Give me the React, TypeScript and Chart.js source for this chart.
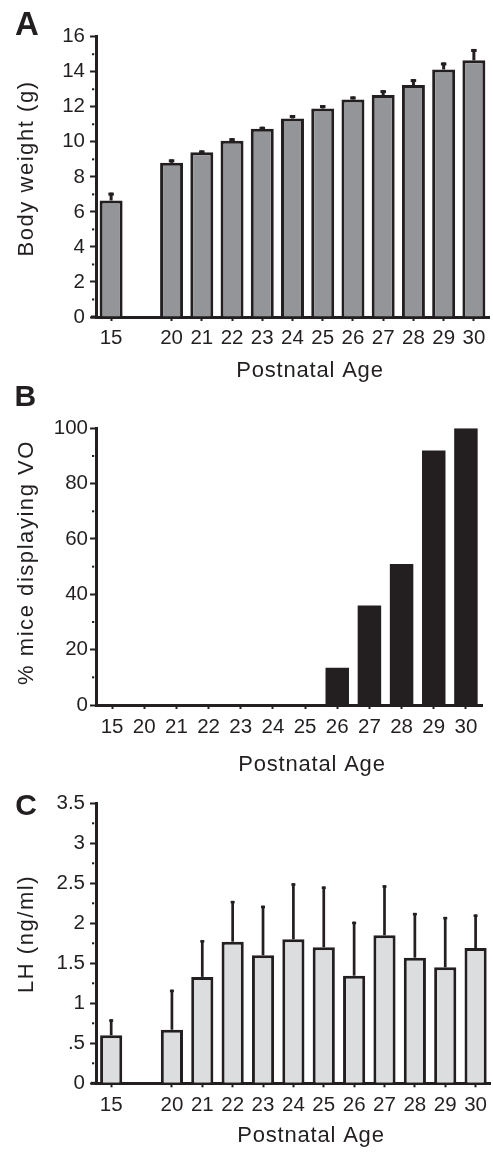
import React, { useEffect, useRef } from 'react';
import { Chart, registerables } from 'chart.js';

Chart.register(...registerables);

// ---------- data ----------
const AGES = ['15', '20', '21', '22', '23', '24', '25', '26', '27', '28', '29', '30'];
const BODY_WEIGHT = [6.65, 8.8, 9.41, 10.06, 10.74, 11.33, 11.9, 12.42, 12.67, 13.24, 14.13, 14.65];
const BODY_WEIGHT_SEM = [0.45, 0.2, 0.1, 0.15, 0.12, 0.2, 0.2, 0.17, 0.28, 0.34, 0.4, 0.65];
const VO_PERCENT = [0, 0, 0, 0, 0, 0, 0, 13.5, 36, 51, 92, 100];
const LH = [0.6, 0.67, 1.33, 1.77, 1.6, 1.8, 1.7, 1.345, 1.85, 1.57, 1.45, 1.69];
const LH_SEM = [0.2, 0.5, 0.46, 0.51, 0.62, 0.7, 0.76, 0.675, 0.625, 0.56, 0.63, 0.42];

const BW_Y_TICKS = [0, 2, 4, 6, 8, 10, 12, 14, 16];
const VO_Y_TICKS = [0, 20, 40, 60, 80, 100];
const LH_Y_TICKS = [0, 0.5, 1, 1.5, 2, 2.5, 3, 3.5];
const LH_Y_LABELS = ['0', '.5', '1', '1.5', '2', '2.5', '3', '3.5'];

const X_TITLE = 'Postnatal Age';
const BW_Y_TITLE = 'Body weight (g)';
const VO_Y_TITLE = '% mice displaying VO';
const LH_Y_TITLE = 'LH (ng/ml)';

// ---------- styling ----------
const INK = '#231f20';
const FONT = '"Liberation Sans", Arial, Helvetica, sans-serif';

// insert an empty slot between the first age and the rest
const withGap = <T,>(arr: T[], filler: T): T[] => [arr[0], filler, ...arr.slice(1)];

const errorBarPlugin = {
  id: 'errorBars',
  afterDatasetsDraw(chart: any, _args: any, opts: any) {
    const errs: (number | null)[] | undefined = opts && opts.errors;
    if (!errs) return;
    const meta = chart.getDatasetMeta(0);
    const yScale = chart.scales.y;
    const vals = chart.data.datasets[0].data;
    const ctx = chart.ctx;
    ctx.save();
    ctx.fillStyle = opts.color;
    meta.data.forEach((el: any, i: number) => {
      const v = vals[i];
      const e = errs[i];
      if (v == null || e == null) return;
      const top = yScale.getPixelForValue(v + e);
      const base = el.y;
      ctx.fillRect(el.x - opts.stemWidth / 2, top, opts.stemWidth, base - top);
      ctx.fillRect(el.x - opts.capWidth / 2, top, opts.capWidth, opts.capHeight);
    });
    ctx.restore();
  },
};

const decorPlugin = {
  id: 'decor',
  afterDraw(chart: any, _args: any, opts: any) {
    const ctx = chart.ctx;
    const yScale = chart.scales.y;
    const { left, bottom } = chart.chartArea;
    ctx.save();
    ctx.fillStyle = INK;
    // minor ticks at half steps
    const t: number[] = opts.yTicks;
    for (let i = 0; i < t.length - 1; i++) {
      const p = yScale.getPixelForValue((t[i] + t[i + 1]) / 2);
      ctx.fillRect(left - 4, p - 1, 2.2, 2);
    }
    // x axis line runs a little past the y axis
    if (opts.extendX) ctx.fillRect(left - opts.extendX, bottom - 1.5, opts.extendX, 3);
    // axis titles
    ctx.font = `22px ${FONT}`;
    ctx.textAlign = 'center';
    ctx.textBaseline = 'middle';
    (ctx as any).letterSpacing = '0.8px';
    ctx.fillText(opts.xTitle, opts.xTitleX, opts.xTitleY);
    (ctx as any).letterSpacing = '1.55px';
    ctx.translate(opts.yTitleX, opts.yTitleY);
    ctx.rotate(-Math.PI / 2);
    ctx.fillText(opts.yTitle, 0, 0);
    ctx.restore();
  },
};

type PanelSpec = {
  top: number;
  height: number;
  padTop: number;
  padRight: number;
  xAxisHeight: number;
  xTickPad: number;
  yTickPad: number;
  labels: string[];
  values: (number | null)[];
  errors?: (number | null)[];
  yTicks: number[];
  yLabels?: string[];
  barPct: number;
  bg: string;
  borderWidth: number;
  stemWidth: number;
  capWidth: number;
  capHeight: number;
  extendX: number;
  xTitle: string;
  yTitle: string;
  xTitleX: number;
  xTitleY: number;
  yTitleX: number;
  yTitleY: number;
};

const WIDTH = 493;

const PANELS: PanelSpec[] = [
  {
    top: 0,
    height: 390,
    padTop: 36.7,
    padRight: 4,
    xAxisHeight: 73,
    xTickPad: 5.5,
    yTickPad: 5,
    labels: withGap(AGES, ''),
    values: withGap<number | null>(BODY_WEIGHT, null),
    errors: withGap<number | null>(BODY_WEIGHT_SEM, null),
    yTicks: BW_Y_TICKS,
    barPct: 0.76,
    bg: '#939598',
    borderWidth: 3,
    stemWidth: 3,
    capWidth: 5.5,
    capHeight: 3,
    extendX: 5,
    xTitle: X_TITLE,
    yTitle: BW_Y_TITLE,
    xTitleX: 310,
    xTitleY: 371,
    yTitleX: 27.3,
    yTitleY: 168.5,
  },
  {
    top: 390,
    height: 390,
    padTop: 38.3,
    padRight: 11,
    xAxisHeight: 75,
    xTickPad: 6,
    yTickPad: 2,
    labels: AGES,
    values: VO_PERCENT,
    yTicks: VO_Y_TICKS,
    barPct: 0.73,
    bg: INK,
    borderWidth: 0,
    stemWidth: 0,
    capWidth: 0,
    capHeight: 0,
    extendX: 0,
    xTitle: X_TITLE,
    yTitle: VO_Y_TITLE,
    xTitleX: 312,
    xTitleY: 374.5,
    yTitleX: 27.3,
    yTitleY: 172.5,
  },
  {
    top: 780,
    height: 373,
    padTop: 23.3,
    padRight: 0,
    xAxisHeight: 69.7,
    xTickPad: 6,
    yTickPad: 5,
    labels: withGap(AGES, ''),
    values: withGap<number | null>(LH, null),
    errors: withGap<number | null>(LH_SEM, null),
    yTicks: LH_Y_TICKS,
    yLabels: LH_Y_LABELS,
    barPct: 0.73,
    bg: '#dcddde',
    borderWidth: 3,
    stemWidth: 2.7,
    capWidth: 4,
    capHeight: 2.5,
    extendX: 5,
    xTitle: X_TITLE,
    yTitle: LH_Y_TITLE,
    xTitleX: 311,
    xTitleY: 356,
    yTitleX: 27.3,
    yTitleY: 154,
  },
];

function Panel({ spec }: { spec: PanelSpec }) {
  const ref = useRef<HTMLCanvasElement | null>(null);
  useEffect(() => {
    if (!ref.current) return;
    const s = spec;
    const chart = new Chart(ref.current, {
      type: 'bar',
      data: {
        labels: s.labels,
        datasets: [
          {
            data: s.values as any,
            backgroundColor: s.bg,
            borderColor: INK,
            borderWidth: s.borderWidth,
            barPercentage: s.barPct,
            categoryPercentage: 1,
          },
        ],
      },
      options: {
        responsive: false,
        animation: false,
        layout: { padding: { top: s.padTop, right: s.padRight, left: 0, bottom: 0 } },
        plugins: {
          legend: { display: false },
          tooltip: { enabled: false },
          errorBars: {
            errors: s.errors,
            color: INK,
            stemWidth: s.stemWidth,
            capWidth: s.capWidth,
            capHeight: s.capHeight,
          },
          decor: {
            yTicks: s.yTicks,
            extendX: s.extendX,
            xTitle: s.xTitle,
            yTitle: s.yTitle,
            xTitleX: s.xTitleX,
            xTitleY: s.xTitleY,
            yTitleX: s.yTitleX,
            yTitleY: s.yTitleY,
          },
        } as any,
        scales: {
          x: {
            type: 'category',
            offset: true,
            grid: {
              display: true,
              offset: false,
              drawOnChartArea: false,
              drawTicks: true,
              tickLength: 4,
              tickWidth: 2,
              tickColor: (c: any) => (c.tick && c.tick.label === '' ? 'rgba(0,0,0,0)' : INK),
            },
            border: { display: true, color: INK, width: 3 },
            ticks: {
              autoSkip: false,
              maxRotation: 0,
              minRotation: 0,
              padding: s.xTickPad,
              color: INK,
              font: { family: FONT, size: 20.5 },
            },
            afterFit: (scale: any) => {
              scale.height = s.xAxisHeight;
            },
          },
          y: {
            type: 'linear',
            min: s.yTicks[0],
            max: s.yTicks[s.yTicks.length - 1],
            grid: {
              display: true,
              drawOnChartArea: false,
              drawTicks: true,
              tickLength: 6,
              tickWidth: 2,
              tickColor: INK,
            },
            border: { display: true, color: INK, width: 3 },
            ticks: {
              padding: s.yTickPad,
              color: INK,
              font: { family: FONT, size: 20.5 },
              callback: (v: any, i: number) => (s.yLabels ? s.yLabels[i] : String(v)),
            },
            afterBuildTicks: (scale: any) => {
              scale.ticks = s.yTicks.map((v) => ({ value: v }));
            },
            afterFit: (scale: any) => {
              scale.width = 96;
            },
          },
        },
      },
      plugins: [errorBarPlugin, decorPlugin],
    } as any);
    return () => chart.destroy();
  }, [spec]);
  return (
    <canvas
      ref={ref}
      width={WIDTH}
      height={spec.height}
      style={{ position: 'absolute', left: 0, top: spec.top, width: WIDTH, height: spec.height }}
    />
  );
}

const letterStyle = (left: number, top: number, size: number): React.CSSProperties => ({
  position: 'absolute',
  left,
  top,
  fontFamily: FONT,
  fontWeight: 700,
  fontSize: size,
  lineHeight: '1',
  color: INK,
});

export default function App() {
  return (
    <div
      style={{
        position: 'absolute',
        left: 0,
        top: 0,
        width: WIDTH,
        height: 1153,
        overflow: 'hidden',
        background: '#fff',
      }}
    >
      {PANELS.map((p, i) => (
        <Panel key={i} spec={p} />
      ))}
      <div style={letterStyle(15, 7.4, 33)}>A</div>
      <div style={letterStyle(14.5, 381, 30)}>B</div>
      <div style={letterStyle(15.3, 790, 30)}>C</div>
    </div>
  );
}
